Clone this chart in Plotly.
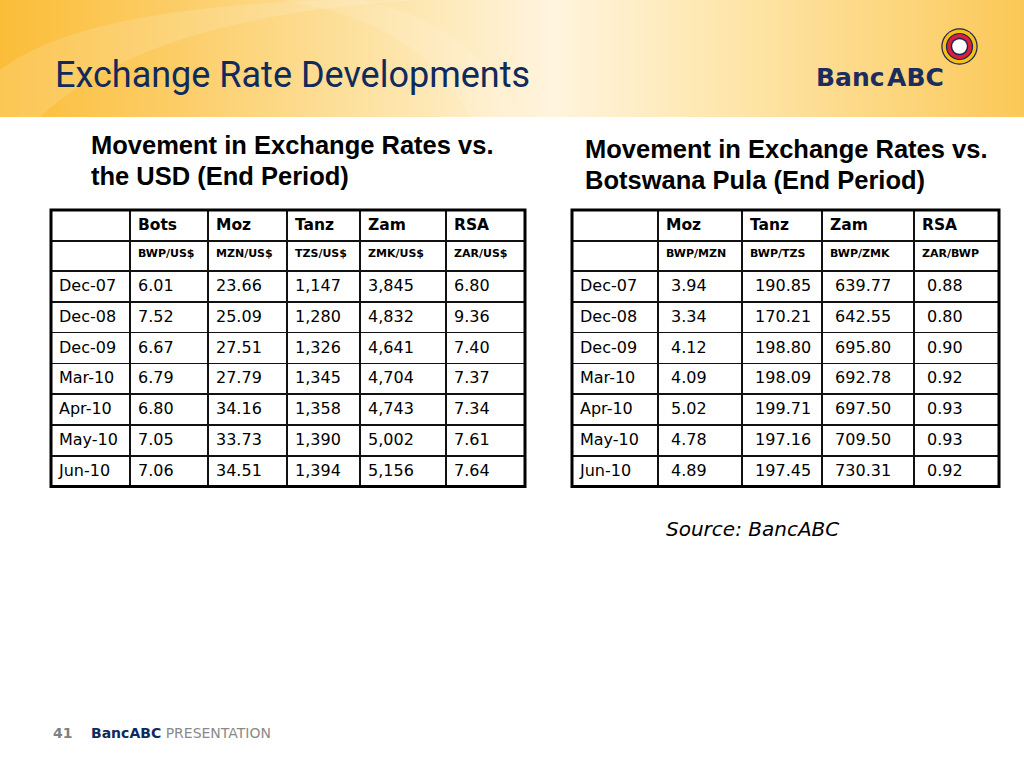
import plotly.graph_objects as go

# ---------------- data ----------------
periods = ["Dec-07", "Dec-08", "Dec-09", "Mar-10", "Apr-10", "May-10", "Jun-10"]

usd_headers = ["", "Bots", "Moz", "Tanz", "Zam", "RSA"]
usd_units = ["", "BWP/US$", "MZN/US$", "TZS/US$", "ZMK/US$", "ZAR/US$"]
usd_bots = [6.01, 7.52, 6.67, 6.79, 6.80, 7.05, 7.06]
usd_moz = [23.66, 25.09, 27.51, 27.79, 34.16, 33.73, 34.51]
usd_tanz = [1147, 1280, 1326, 1345, 1358, 1390, 1394]
usd_zam = [3845, 4832, 4641, 4704, 4743, 5002, 5156]
usd_rsa = [6.80, 9.36, 7.40, 7.37, 7.34, 7.61, 7.64]

bwp_headers = ["", "Moz", "Tanz", "Zam", "RSA"]
bwp_units = ["", "BWP/MZN", "BWP/TZS", "BWP/ZMK", "ZAR/BWP"]
bwp_moz = [3.94, 3.34, 4.12, 4.09, 5.02, 4.78, 4.89]
bwp_tanz = [190.85, 170.21, 198.80, 198.09, 199.71, 197.16, 197.45]
bwp_zam = [639.77, 642.55, 695.80, 692.78, 697.50, 709.50, 730.31]
bwp_rsa = [0.88, 0.80, 0.90, 0.92, 0.93, 0.93, 0.92]

# ---------------- layout constants ----------------
W, H = 1024, 768
NAVY = "#0f2a5c"
TFONT = "DejaVu Sans, Verdana, sans-serif"
HEAD_H = 31
UNIT_H = 30
CELL_H = 30.8
LINE = dict(color="#111111", width=1.5)

fig = go.Figure()

# banner gradient
fig.add_trace(go.Scatter(
    x=[0, W, W, 0, 0], y=[0, 0, 117, 117, 0], mode="none", fill="toself",
    fillgradient=dict(type="horizontal", colorscale=[
        [0.0, "#fbbd38"], [0.17, "#fccd66"], [0.36, "#fde2a2"],
        [0.54, "#fff4de"], [0.72, "#fee5a9"], [0.9, "#fcd377"], [1.0, "#fbc856"]]),
    hoverinfo="skip", showlegend=False))


def px_x(v):
    return v / W


def px_y(v):
    return 1 - v / H


def add_table(x0, x1, top, colw, headers, units, cols, fmts, prefixes):
    nrows = len(periods)
    bottom = top + HEAD_H + UNIT_H + nrows * CELL_H
    # column titles
    fig.add_trace(go.Table(
        domain=dict(x=[px_x(x0), px_x(x1)], y=[px_y(top + HEAD_H), px_y(top)]),
        columnwidth=colw,
        header=dict(values=headers, height=HEAD_H, align="left",
                    fill=dict(color="white"), line=LINE,
                    font=dict(family=TFONT, color="black", size=15.5, weight="bold")),
    ))
    # unit row + data rows
    fig.add_trace(go.Table(
        domain=dict(x=[px_x(x0), px_x(x1)], y=[px_y(bottom + 6), px_y(top + HEAD_H)]),
        columnwidth=colw,
        header=dict(values=units, height=UNIT_H, align="left",
                    fill=dict(color="white"), line=LINE,
                    font=dict(family=TFONT, color="black", size=11, weight="bold")),
        cells=dict(values=[periods] + cols, format=fmts, prefix=prefixes,
                   height=CELL_H, align="left",
                   fill=dict(color="white"), line=LINE,
                   font=dict(family=TFONT, color="black", size=16)),
    ))
    fig.add_shape(type="rect", xref="x", yref="y", x0=x0, x1=x1, y0=top, y1=bottom,
                  line=dict(color="black", width=3), layer="above")


add_table(51, 525, 210, [79, 78, 79, 73, 86, 79], usd_headers, usd_units,
          [usd_bots, usd_moz, usd_tanz, usd_zam, usd_rsa],
          [None, ".2f", ".2f", ",d", ",d", ".2f"], None)
add_table(572, 999, 210, [86, 84, 80, 92, 85], bwp_headers, bwp_units,
          [bwp_moz, bwp_tanz, bwp_zam, bwp_rsa],
          [None, ".2f", ".2f", ".2f", ".2f"], [None, "\u00a0", "\u00a0", "\u00a0", "\u00a0"])

# subtle light swooshes in banner (drawn under the text annotations)
fig.add_shape(type="path", xref="x", yref="y",
              path="M 0,70 Q 80,8 330,0 L 420,0 Q 150,15 40,117 L 0,117 Z",
              fillcolor="rgba(255,255,255,0.14)", line=dict(width=0), layer="above")
fig.add_shape(type="path", xref="x", yref="y",
              path="M 280,0 Q 420,20 470,117 L 520,117 Q 470,20 360,0 Z",
              fillcolor="rgba(255,255,255,0.12)", line=dict(width=0), layer="above")

# logo rings
rings = [(18.2, "#1b2352"), (17.0, "#f2c21b"), (13.6, "#1b2352"), (12.4, "#d9203a"),
         (8.8, "#1b2352"), (7.3, "#ffffff")]
cx, cy = 959.5, 46.5
for r, c in rings:
    fig.add_shape(type="circle", xref="x", yref="y", x0=cx - r, x1=cx + r,
                  y0=cy - r, y1=cy + r, fillcolor=c, line=dict(width=0))

ann = []
ann.append(dict(x=53, y=75, text="Exchange Rate Developments", xanchor="left", yanchor="middle",
                font=dict(family="Roboto, sans-serif", size=36, color=NAVY)))
ann.append(dict(x=814, y=77, text="<b>Banc</b>\u200a<b>ABC</b>", xanchor="left", yanchor="middle",
                font=dict(family="DejaVu Sans, sans-serif", size=25, color="#1b2d5e")))
SUB = dict(family="Liberation Sans, Arial, sans-serif", size=25.5, color="black")
ann.append(dict(x=89, y=145, text="<b>Movement in Exchange Rates vs.</b>", xanchor="left",
                yanchor="middle", font=SUB))
ann.append(dict(x=89, y=176, text="<b>the USD (End Period)</b>", xanchor="left",
                yanchor="middle", font=SUB))
ann.append(dict(x=583, y=149, text="<b>Movement in Exchange Rates vs.</b>", xanchor="left",
                yanchor="middle", font=SUB))
ann.append(dict(x=583, y=180, text="<b>Botswana Pula (End Period)</b>", xanchor="left",
                yanchor="middle", font=SUB))
ann.append(dict(x=664, y=529, text="<i>Source: BancABC</i>", xanchor="left", yanchor="middle",
                font=dict(family=TFONT, size=20, color="black")))
ann.append(dict(x=51, y=733, text="<b>41</b>", xanchor="left", yanchor="middle",
                font=dict(family=TFONT, size=14, color="#7f7f7f")))
ann.append(dict(x=89, y=733, text="<b>BancABC</b> <span style='color:#8a8a8a'>PRESENTATION</span>",
                xanchor="left", yanchor="middle",
                font=dict(family=TFONT, size=14, color=NAVY)))
for a in ann:
    a.update(xref="x", yref="y", showarrow=False)

fig.update_layout(
    width=W, height=H, margin=dict(l=0, r=0, t=0, b=0),
    paper_bgcolor="white", plot_bgcolor="white",
    xaxis=dict(range=[0, W], visible=False, fixedrange=True),
    yaxis=dict(range=[H, 0], visible=False, fixedrange=True),
    annotations=ann, showlegend=False,
)

fig.write_html("out.html", config={"displayModeBar": False},
               post_script="document.body.style.margin='0';document.body.style.overflow='hidden';")
